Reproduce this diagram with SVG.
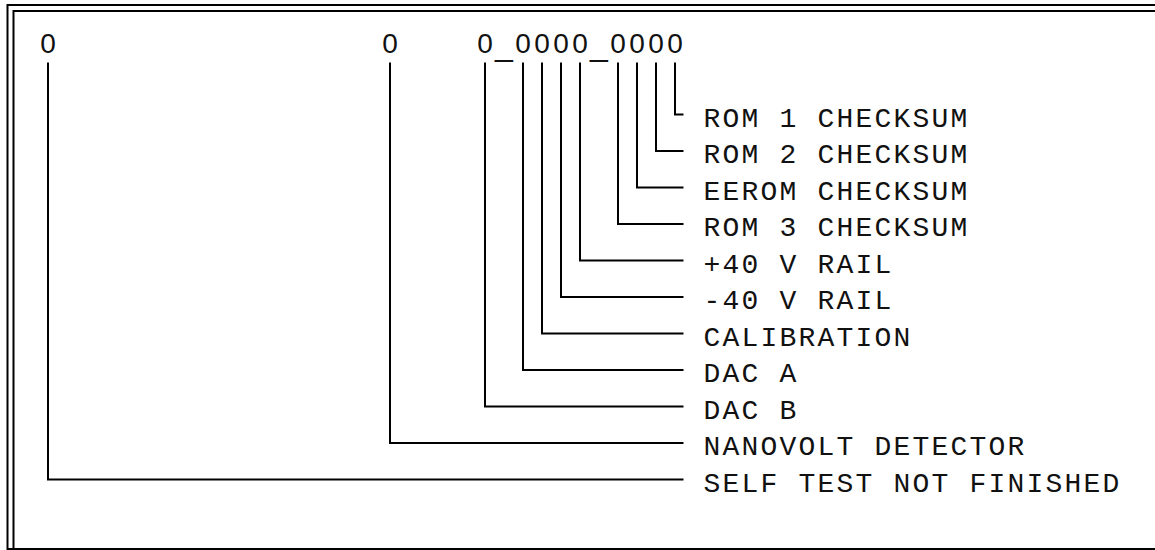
<svg xmlns="http://www.w3.org/2000/svg" width="1155" height="550" viewBox="0 0 1155 550">
  <style>
    .t { font-family: "Liberation Mono", "DejaVu Sans Mono", monospace; font-size: 28px; letter-spacing: 2.2px; fill: #111; }
    .bits { font-family: "Liberation Sans", "DejaVu Sans", sans-serif; font-size: 28px; fill: #111; text-anchor: middle; }
    .us { font-size: 32px; }
    .ln { fill: none; stroke: #000; stroke-width: 2; stroke-linejoin: miter; stroke-linecap: butt; }
  </style>
  <rect x="0" y="0" width="1155" height="550" fill="#fff"/>

  <!-- double-line frame (open on the right) -->
  <g id="frame" class="ln">
    <path d="M7.5,550 V5 H1155"/>
    <path d="M13.5,550 V11 H1155"/>
    <path d="M7.5,549 H1155"/>
  </g>

  <!-- status word, one character per 19px column (column n centred at 10 + 19n) -->
  <g id="status-word">
    <text class="bits" x="48" y="53">0</text>
    <text class="bits" x="390" y="53">0</text>
    <text class="bits" y="53"><tspan x="485">0</tspan><tspan class="us" x="504" dy="2.5">_</tspan><tspan x="523 542 561 580" dy="-2.5">0000</tspan><tspan class="us" x="599" dy="2.5">_</tspan><tspan x="618 637 656 675" dy="-2.5">0000</tspan></text>
  </g>

  <!-- bit leaders: down from each digit, then across to its label -->
  <g id="connectors" class="ln">
    <polyline points="675,62.5 675,114.5 683.5,114.5"/>
    <polyline points="656,62.5 656,151 683.5,151"/>
    <polyline points="637,62.5 637,187.5 683.5,187.5"/>
    <polyline points="618,62.5 618,224 683.5,224"/>
    <polyline points="580,62.5 580,260.5 683.5,260.5"/>
    <polyline points="561,62.5 561,297 683.5,297"/>
    <polyline points="542,62.5 542,333.5 683.5,333.5"/>
    <polyline points="523,62.5 523,370 683.5,370"/>
    <polyline points="485,62.5 485,406.5 683.5,406.5"/>
    <polyline points="390,62.5 390,443 683.5,443"/>
    <polyline points="48,62.5 48,479.5 683.5,479.5"/>
  </g>

  <g id="rom1"><text class="t" x="703.5" y="126.5">ROM 1 CHECKSUM</text></g>
  <g id="rom2"><text class="t" x="703.5" y="163">ROM 2 CHECKSUM</text></g>
  <g id="eerom"><text class="t" x="703.5" y="199.5">EEROM CHECKSUM</text></g>
  <g id="rom3"><text class="t" x="703.5" y="236">ROM 3 CHECKSUM</text></g>
  <g id="rail-pos"><text class="t" x="703.5" y="272.5">+40 V RAIL</text></g>
  <g id="rail-neg"><text class="t" x="703.5" y="309">-40 V RAIL</text></g>
  <g id="calibration"><text class="t" x="703.5" y="345.5">CALIBRATION</text></g>
  <g id="dac-a"><text class="t" x="703.5" y="382">DAC A</text></g>
  <g id="dac-b"><text class="t" x="703.5" y="418.5">DAC B</text></g>
  <g id="nanovolt"><text class="t" x="703.5" y="455">NANOVOLT DETECTOR</text></g>
  <g id="self-test"><text class="t" x="703.5" y="491.5">SELF TEST NOT FINISHED</text></g>
</svg>
